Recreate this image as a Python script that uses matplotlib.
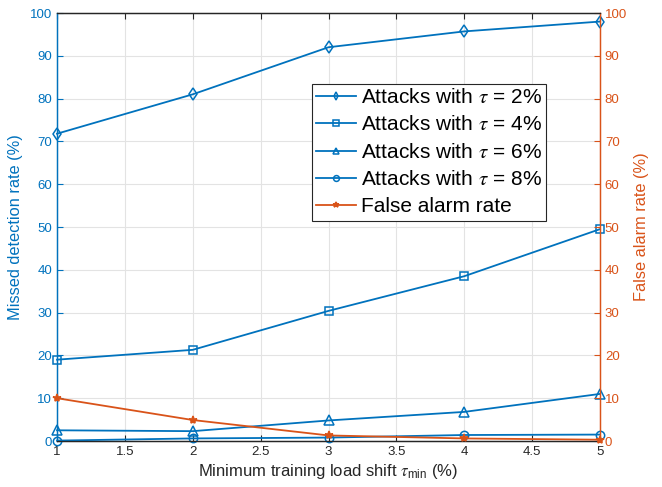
import matplotlib
matplotlib.use("Agg")
import matplotlib.pyplot as plt

plt.rcParams['font.family'] = ['Liberation Sans', 'DejaVu Sans']
plt.rcParams['mathtext.fontset'] = 'stix'

x = [1, 2, 3, 4, 5]
tau2 = [71.8, 81.0, 92.0, 95.7, 98.0]
tau4 = [19.0, 21.3, 30.4, 38.5, 49.5]
tau6 = [2.5, 2.3, 4.8, 6.8, 11.0]
tau8 = [0.1, 0.6, 0.8, 1.4, 1.5]
false_alarm = [10.0, 4.9, 1.3, 0.6, 0.3]
labels = [r'Attacks with $\tau$ = 2%', r'Attacks with $\tau$ = 4%',
          r'Attacks with $\tau$ = 6%', r'Attacks with $\tau$ = 8%', 'False alarm rate']

blue = '#0072BD'
orange = '#D95319'

fig = plt.figure(figsize=(6.62, 4.87), dpi=100)
ax = fig.add_axes([57/662, 1-441/487, (600-57)/662, (441-13)/487])
ax2 = ax.twinx()

h1, = ax.plot(x, tau2, '-d', color=blue, mfc='none', ms=6, lw=1.3, mew=1.1, clip_on=False, zorder=3)
h2, = ax.plot(x, tau4, '-s', color=blue, mfc='none', ms=5.5, lw=1.3, mew=1.1, clip_on=False, zorder=3)
h3, = ax.plot(x, tau6, '-^', color=blue, mfc='none', ms=6.5, lw=1.3, mew=1.1, clip_on=False, zorder=3)
h4, = ax.plot(x, tau8, '-o', color=blue, mfc='none', ms=6, lw=1.3, mew=1.1, clip_on=False, zorder=3)
h5, = ax2.plot(x, false_alarm, '-*', color=orange, mfc=orange, ms=6, lw=1.3, mew=1.1, clip_on=False, zorder=3)

ax.set_xlim(1, 5)
ax.set_ylim(0, 100)
ax2.set_ylim(0, 100)
ax.set_xticks([1, 1.5, 2, 2.5, 3, 3.5, 4, 4.5, 5])
ax.set_xticklabels(['1', '1.5', '2', '2.5', '3', '3.5', '4', '4.5', '5'])
ax.set_yticks(range(0, 101, 10))
ax2.set_yticks(range(0, 101, 10))

ax.grid(True, color='#e3e3e3', lw=0.8)
ax.set_axisbelow(True)

ax.tick_params(axis='both', direction='in', labelsize=9.5, length=4)
ax.tick_params(axis='x', top=True, colors='#262626')
ax.tick_params(axis='y', colors=blue)
ax2.tick_params(axis='y', direction='in', colors=orange, labelsize=9.5, length=4)

ax.spines['left'].set_color(blue)
ax2.spines['left'].set_color(blue)
ax2.spines['right'].set_color(orange)
ax.spines['right'].set_color(orange)
for a in (ax, ax2):
    a.spines['top'].set_color('#262626')
    a.spines['bottom'].set_color('#262626')
    for s in a.spines.values():
        s.set_linewidth(0.9)

ax.set_ylabel('Missed detection rate (%)', color=blue, fontsize=11.8, labelpad=5)
ax2.set_ylabel('False alarm rate (%)', color=orange, fontsize=11.8, labelpad=5)
ax.set_xlabel(r'Minimum training load shift $\tau_{\mathregular{min}}$ (%)', color='#262626', fontsize=12, labelpad=3)

leg = ax2.legend([h1, h2, h3, h4, h5], labels, loc='upper right',
                 bbox_to_anchor=(546/662, 1-84/487), bbox_transform=fig.transFigure,
                 fontsize=15, fancybox=False, framealpha=1, edgecolor='#262626',
                 handlelength=1.9, handletextpad=0.25, borderpad=0.2, labelspacing=0.4,
                 markerscale=0.7, borderaxespad=0)
leg.get_frame().set_linewidth(0.8)

fig.savefig('out.png', dpi=100)
